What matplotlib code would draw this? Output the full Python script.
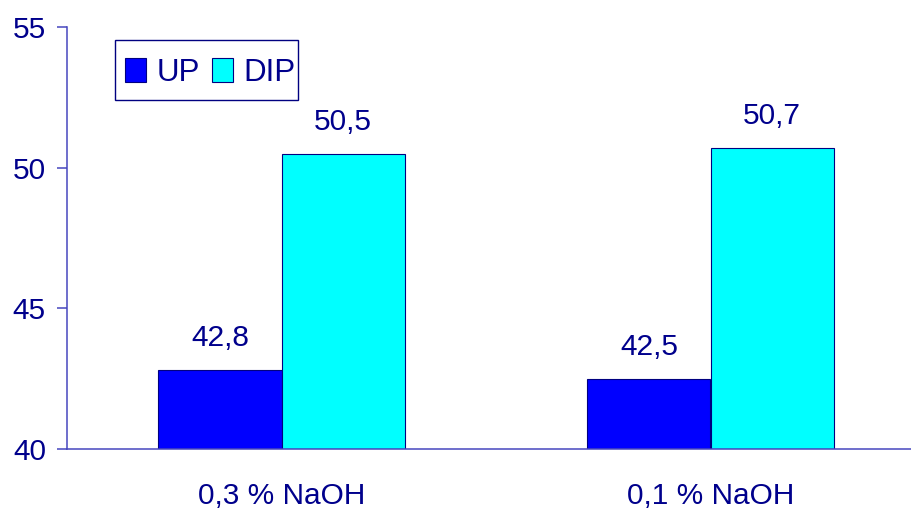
import matplotlib
matplotlib.use("Agg")
import matplotlib.pyplot as plt
from matplotlib.patches import Rectangle
import numpy as np

plt.rcParams['font.family'] = ['Liberation Sans', 'DejaVu Sans']

categories = ["0,3 % NaOH", "0,1 % NaOH"]
series_names = ["UP", "DIP"]
up_values = [42.8, 42.5]
dip_values = [50.5, 50.7]
y_ticks = [40, 45, 50, 55]

text_color = "#00008C"
axis_color = "#4646BE"
edge_color = "#000080"
fs = 21.5

W, H = 912, 513
fig = plt.figure(figsize=(W / 100, H / 100), dpi=100)
ax = fig.add_axes([67 / W, 1 - 449 / H, 858 / W, 422 / H])

x = np.arange(len(categories))
w = 0.287
b1 = ax.bar(x - w / 2, np.array(up_values) - 40, width=w, bottom=40,
            color="#0000FF", edgecolor=edge_color, linewidth=0.8, label=series_names[0])
b2 = ax.bar(x + w / 2, np.array(dip_values) - 40, width=w, bottom=40,
            color="#00FFFF", edgecolor=edge_color, linewidth=0.8, label=series_names[1])

def fmt(v):
    return f"{v:.1f}".replace(".", ",")

for bars, vals in ((b1, up_values), (b2, dip_values)):
    for rect, v in zip(bars, vals):
        ax.annotate(fmt(v), (rect.get_x() + rect.get_width() / 2, v),
                    xytext=(0, 13), textcoords="offset points",
                    ha="center", va="bottom", fontsize=fs, color=text_color)

ax.set_xlim(-0.5, 1.5)
ax.set_ylim(40, 55)
ax.set_yticks(y_ticks)
ax.set_yticklabels([str(t) for t in y_ticks])
ax.set_xticks(x)
ax.set_xticklabels(categories)

ax.tick_params(axis="y", length=7.2, width=1.1, color=axis_color, pad=8,
               labelsize=fs, labelcolor=text_color)
ax.tick_params(axis="x", length=0, pad=24, labelsize=fs, labelcolor=text_color)

for side in ("top", "right"):
    ax.spines[side].set_visible(False)
for side in ("left", "bottom"):
    ax.spines[side].set_color(axis_color)
    ax.spines[side].set_linewidth(1.1)

# legend entries without frame, boxed by a separate rectangle
leg = ax.legend(loc="center left", bbox_to_anchor=(125 / W, 1 - 73 / H),
                bbox_transform=fig.transFigure, ncol=2, fontsize=22.5,
                handlelength=0.68, handleheight=0.8, handletextpad=0.33,
                columnspacing=0.38, borderpad=0, borderaxespad=0,
                frameon=False)
for t in leg.get_texts():
    t.set_color(text_color)

fig.patches.append(Rectangle((115 / W, 1 - 100 / H), 183 / W, 60 / H,
                             transform=fig.transFigure, fill=False,
                             edgecolor=edge_color, linewidth=1.0))

fig.savefig("out.png", dpi=100)
